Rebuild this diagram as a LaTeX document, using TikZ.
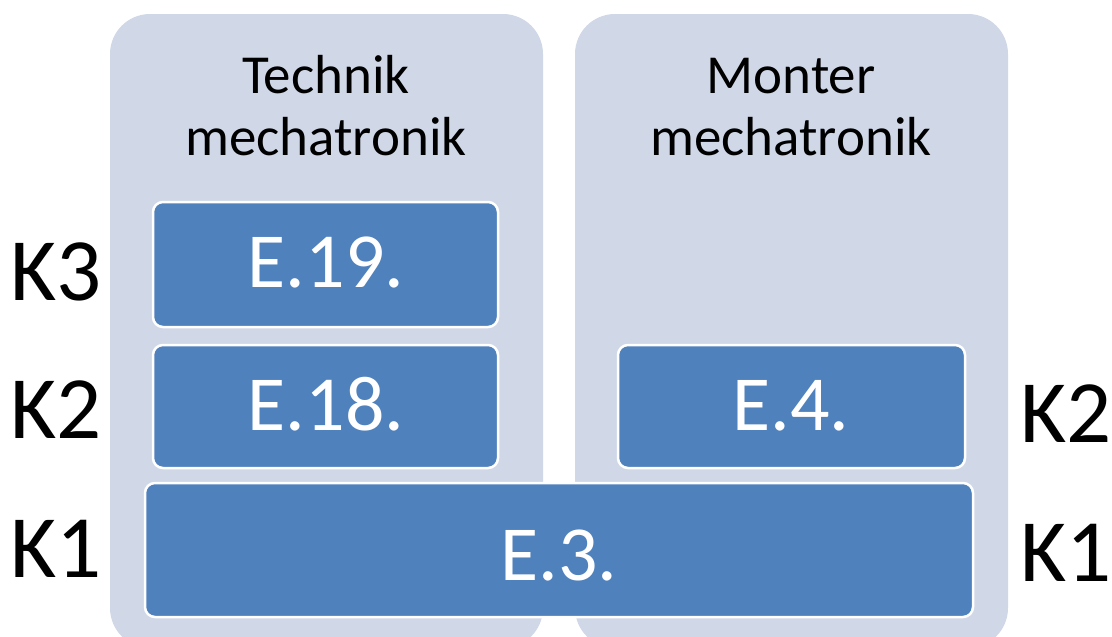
\documentclass[tikz,border=0pt]{standalone}
\usepackage{fontspec}
\setmainfont{Carlito}
\definecolor{panelfill}{HTML}{D0D8E8}
\definecolor{boxfill}{HTML}{4F81BD}
\begin{document}
\begin{tikzpicture}[x=1pt,y=-1pt,
  panel/.style={fill=panelfill,draw=none,rounded corners=40pt},
  ebox/.style={fill=boxfill,draw=white,line width=2.5pt,rounded corners=10pt},
  etext/.style={text=white,font=\fontsize{78}{80}\selectfont,anchor=base,inner sep=0pt},
  ktext/.style={text=black,font=\fontsize{89}{92}\selectfont,anchor=base,inner sep=0pt},
  ttext/.style={text=black,font=\fontsize{55}{62}\selectfont,align=center,anchor=base,inner sep=0pt}]
\useasboundingbox (0,0) rectangle (1112,637);
\clip (0,0) rectangle (1112,637);
% panels
\path[panel] (110,14) rectangle (543,648);
\path[panel] (575,14) rectangle (1008,648);
\node[ttext] (t1) at (326,155) {Technik\\mechatronik};
\node[ttext] (t2) at (791,155) {Monter\\mechatronik};
% boxes
\draw[ebox] (153,202) rectangle (498,327);
\node[etext] (e19) at (326,287) {E.19.};
\draw[ebox] (153,345) rectangle (498,468);
\node[etext] (e18) at (326,430) {E.18.};
\draw[ebox] (618,345) rectangle (965,468);
\node[etext] (e4) at (791,430) {E.4.};
\draw[ebox] (145,483) rectangle (973,617);
\node[etext] (e3) at (559,580) {E.3.};
% level labels
\node[ktext] (k3l) at (56,300) {K3};
\node[ktext] (k2l) at (56,438) {K2};
\node[ktext] (k1l) at (56,577) {K1};
\node[ktext] (k2r) at (1066,442) {K2};
\node[ktext] (k1r) at (1066,581) {K1};
\end{tikzpicture}
\end{document}
